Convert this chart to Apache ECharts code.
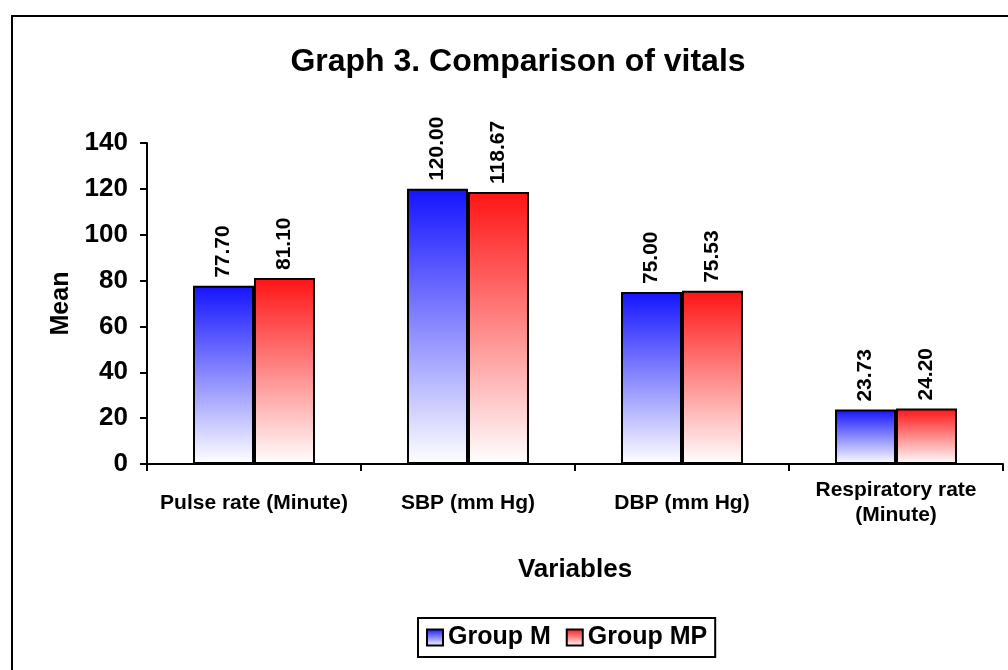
<!DOCTYPE html>
<html><head><meta charset="utf-8">
<script src="https://cdn.jsdelivr.net/npm/echarts@6/dist/echarts.min.js"></script>
<style>html,body{margin:0;padding:0;background:#fff}#c{width:1008px;height:670px;position:relative}
#frame{position:absolute;left:11px;top:15px;width:1010px;height:670px;border:2px solid #000;box-sizing:border-box;pointer-events:none}</style>
</head><body><div id="c"></div><div id="frame"></div>
<script>
const categories = ['Pulse rate (Minute)', 'SBP (mm Hg)', 'DBP (mm Hg)', 'Respiratory rate\n(Minute)'];
const groupM = [77.70, 120.00, 75.00, 23.73];
const groupMP = [81.10, 118.67, 75.53, 24.20];
const seriesNames = ['Group M', 'Group MP'];
const yTicks = {min: 0, max: 140, interval: 20};

const font = 'Arial, "Liberation Sans", sans-serif';
function grad(top) {
  return new echarts.graphic.LinearGradient(0, 0, 0, 1, [
    {offset: 0, color: top}, {offset: 1, color: '#ffffff'}
  ]);
}
const chart = echarts.init(document.getElementById('c'));
const lbl = {
  show: true, position: 'top', rotate: 90, align: 'left', verticalAlign: 'middle',
  distance: 8, color: '#000', fontWeight: 'bold', fontSize: 21, fontFamily: font,
  formatter: p => p.value.toFixed(2)
};
chart.setOption({
  backgroundColor: '#fff',
  animation: false,
  title: {
    text: 'Graph 3. Comparison of vitals', left: 513, top: 41, textAlign: 'center',
    textStyle: {fontSize: 32, fontWeight: 'bold', color: '#000', fontFamily: font}
  },
  legend: {
    data: seriesNames, left: 418, top: 618, itemGap: 15,
    itemWidth: 16, itemHeight: 16, padding: [7, 8, 7, 8],
    borderColor: '#000', borderWidth: 2, borderRadius: 0,
    icon: 'rect',
    textStyle: {fontSize: 25, fontWeight: 'bold', color: '#000', fontFamily: font},
    itemStyle: {borderColor: '#000', borderWidth: 2}
  },
  grid: {left: 147, top: 143, right: 5, bottom: 206},
  xAxis: {
    type: 'category', data: categories,
    name: 'Variables', nameLocation: 'middle', nameGap: 93,
    nameTextStyle: {fontSize: 26, fontWeight: 'bold', color: '#000', fontFamily: font},
    axisLine: {lineStyle: {color: '#000', width: 2}},
    axisTick: {show: true, length: 7, lineStyle: {color: '#000', width: 2}},
    axisLabel: {fontSize: 21, fontWeight: 'bold', color: '#000', fontFamily: font, margin: 39,
      lineHeight: 25, interval: 0, verticalAlign: 'middle'}
  },
  yAxis: {
    type: 'value', min: yTicks.min, max: yTicks.max, interval: yTicks.interval,
    name: 'Mean', nameLocation: 'middle', nameGap: 72, nameRotate: 90,
    nameTextStyle: {fontSize: 25, fontWeight: 'bold', color: '#000', fontFamily: font},
    axisLine: {show: true, lineStyle: {color: '#000', width: 2}},
    axisTick: {show: true, length: 7, lineStyle: {color: '#000', width: 2}},
    splitLine: {show: false},
    axisLabel: {fontSize: 26, fontWeight: 'bold', color: '#000', fontFamily: font, margin: 19}
  },
  series: [
    {name: seriesNames[0], type: 'bar', data: groupM, barGap: '0%', barCategoryGap: '43%',
     itemStyle: {color: grad('#1414ff'), borderColor: '#000', borderWidth: 2}, label: lbl},
    {name: seriesNames[1], type: 'bar', data: groupMP, barGap: '0%', barCategoryGap: '43%',
     itemStyle: {color: grad('#ff1414'), borderColor: '#000', borderWidth: 2}, label: lbl}
  ]
});
</script></body></html>
